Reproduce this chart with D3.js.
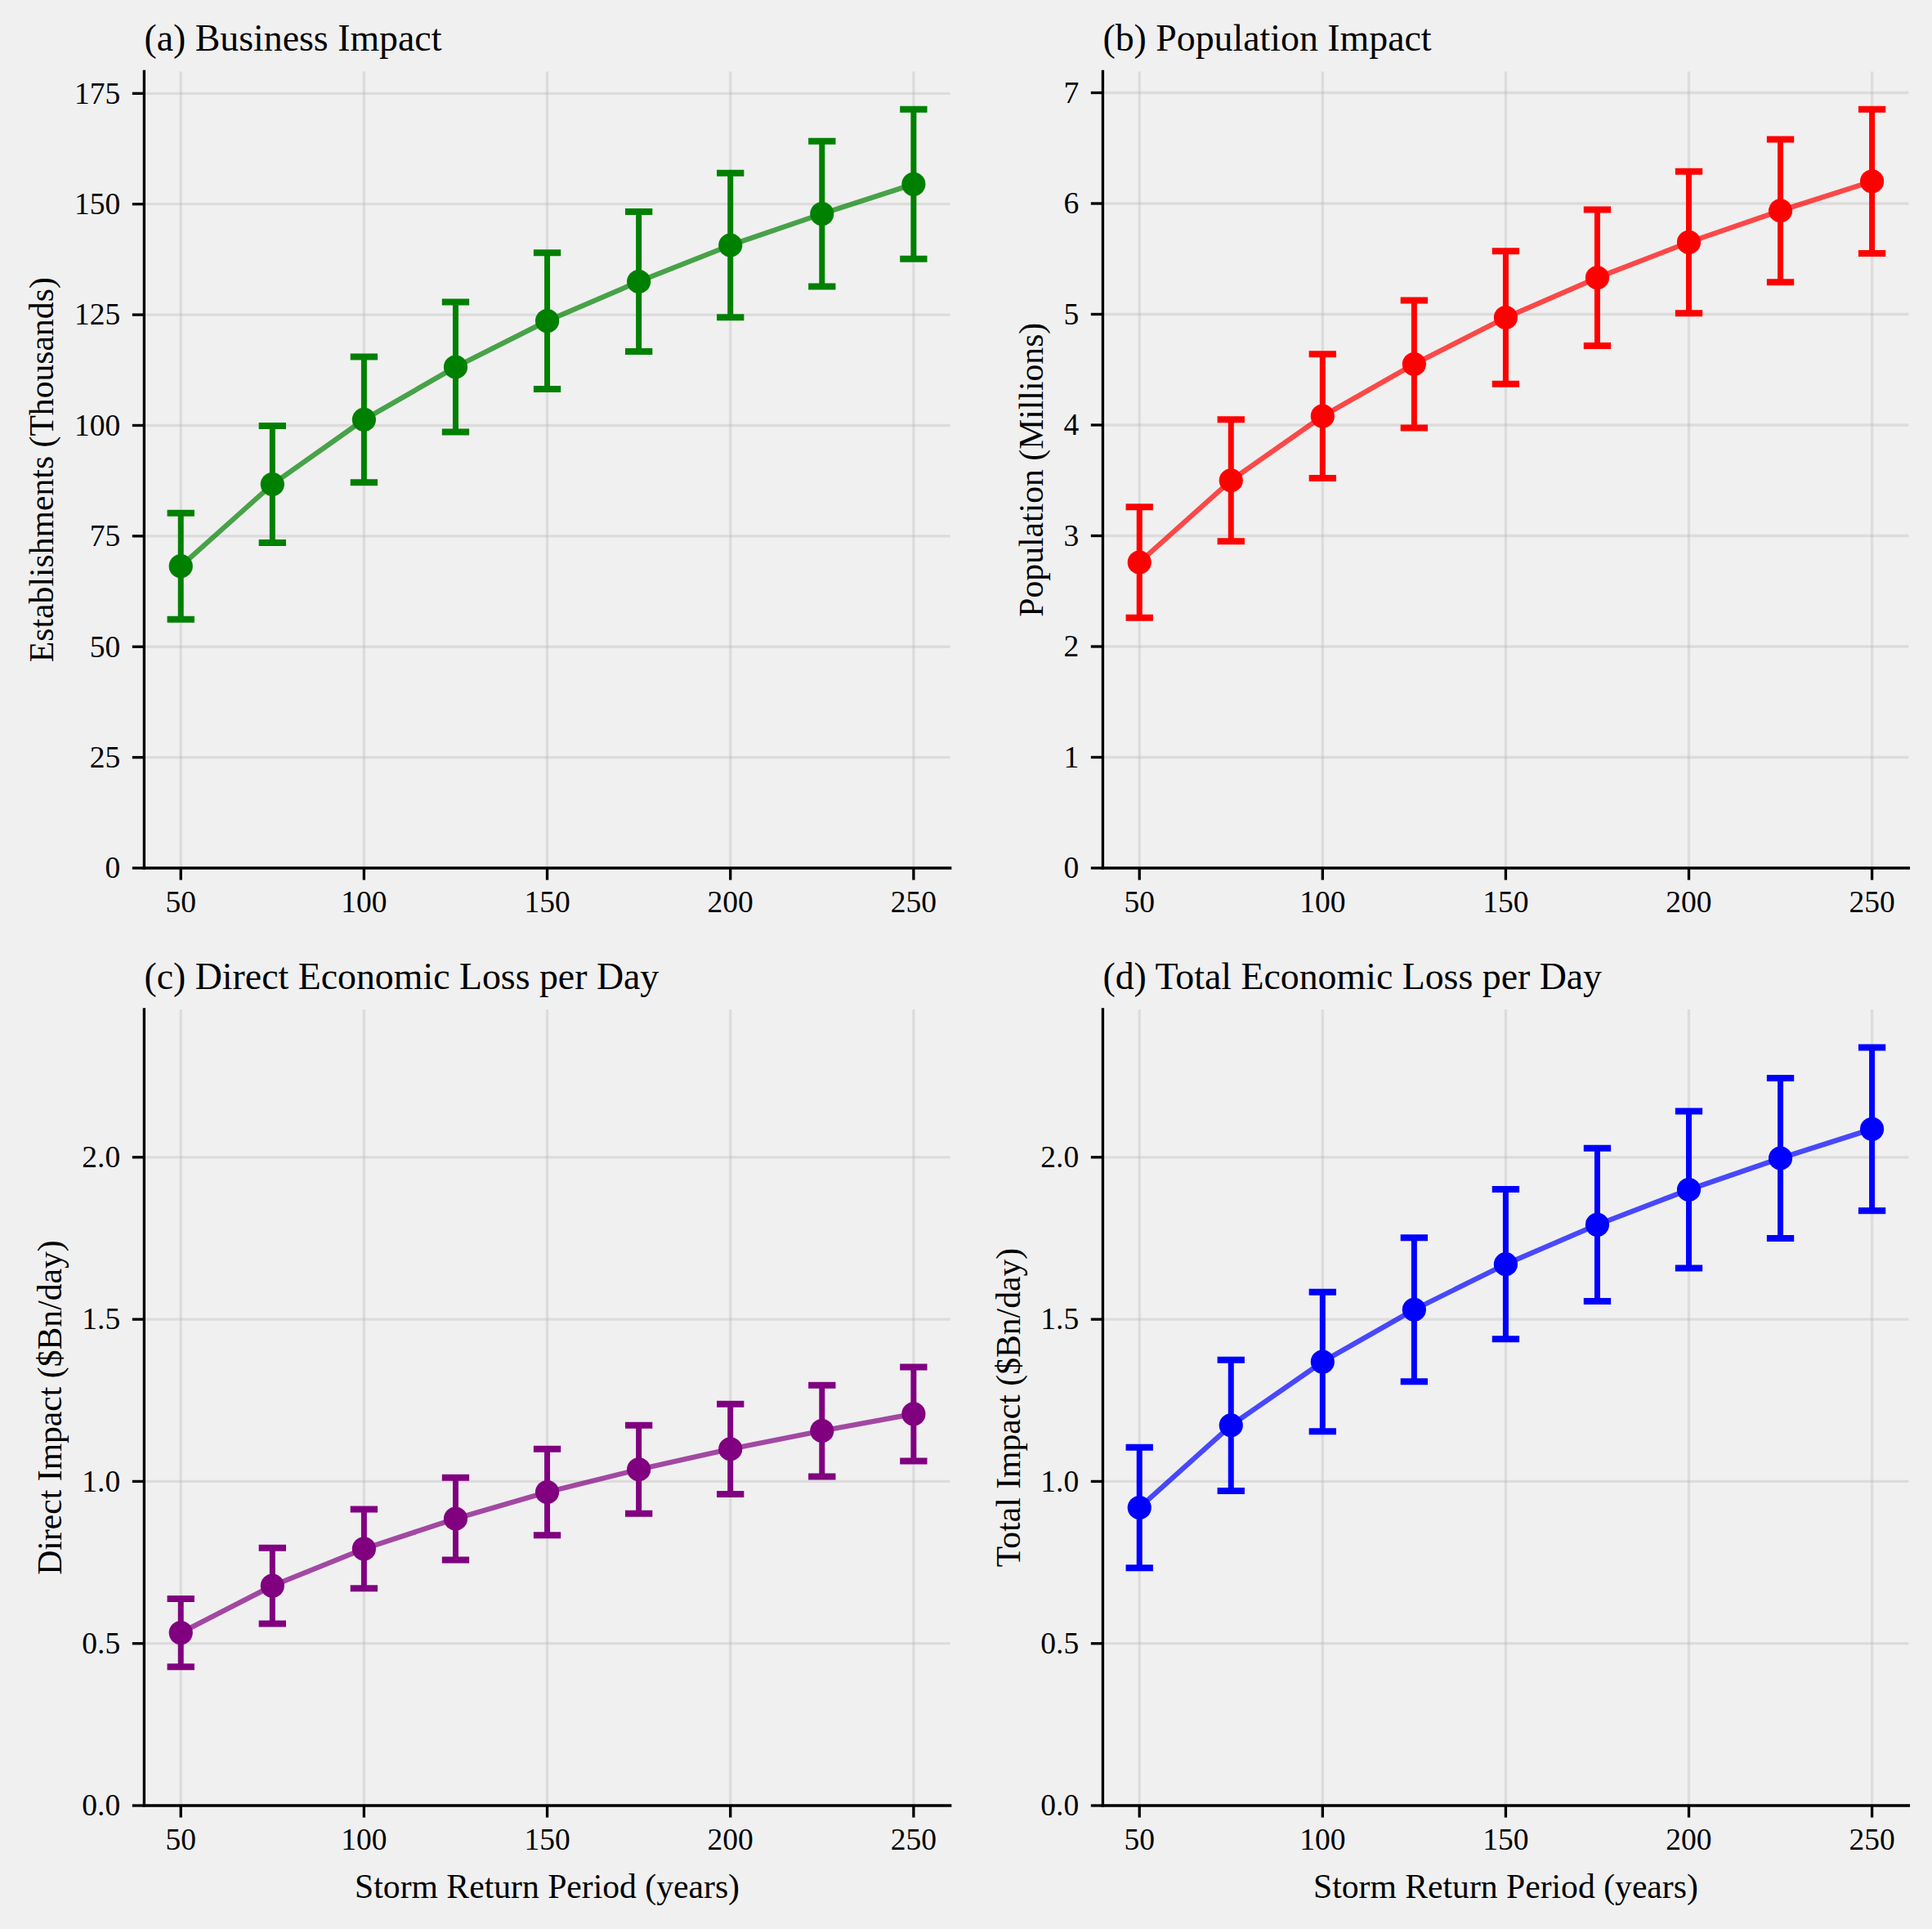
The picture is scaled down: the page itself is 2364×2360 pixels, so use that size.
<!DOCTYPE html>
<html>
<head>
<meta charset="utf-8">
<script src="https://cdn.jsdelivr.net/npm/d3@7"></script>
<style>
  html, body { margin: 0; padding: 0; background: #f0f0f0; }
  svg { display: block; }
  text { font-family: "Liberation Serif", "Times New Roman", serif; fill: #000; }
</style>
</head>
<body>
<script>
// ---- Data ----
const returnPeriods = [50, 75, 100, 125, 150, 175, 200, 225, 250];
const xTicks = [50, 100, 150, 200, 250];

const businessMean = [68.2, 86.7, 101.3, 113.2, 123.6, 132.5, 140.7, 147.8, 154.5];
const businessErr  = [12.0, 13.2, 14.2, 14.7, 15.4, 15.8, 16.3, 16.4, 16.9];

const populationMean = [2.76, 3.50, 4.08, 4.55, 4.97, 5.33, 5.65, 5.935, 6.20];
const populationErr  = [0.50, 0.55, 0.56, 0.575, 0.60, 0.615, 0.64, 0.645, 0.65];

const directMean = [0.533, 0.678, 0.792, 0.885, 0.967, 1.037, 1.100, 1.156, 1.208];
const directErr  = [0.105, 0.117, 0.122, 0.127, 0.133, 0.136, 0.139, 0.141, 0.145];

const totalMean = [0.919, 1.173, 1.369, 1.530, 1.670, 1.792, 1.900, 1.997, 2.087];
const totalErr  = [0.186, 0.202, 0.215, 0.222, 0.231, 0.236, 0.242, 0.247, 0.252];

const titles = ["(a) Business Impact", "(b) Population Impact",
                "(c) Direct Economic Loss per Day", "(d) Total Economic Loss per Day"];
const yLabels = ["Establishments (Thousands)", "Population (Millions)",
                 "Direct Impact ($Bn/day)", "Total Impact ($Bn/day)"];
const xLabel = "Storm Return Period (years)";
const yTicksA = [0, 25, 50, 75, 100, 125, 150, 175];
const yTicksB = [0, 1, 2, 3, 4, 5, 6, 7];
const yTicksCD = [0.0, 0.5, 1.0, 1.5, 2.0];
const colors = ["#008000", "#ff0000", "#800080", "#0000ff"];

// ---- Layout ----
const W = 2364, H = 2360;
const BG = "#f0f0f0";
const pt = 300 / 72;
const cols = [[176.4, 1162.7], [1349.4, 2335.4]];
const rows = [[87.4, 1062], [1235, 2209]];

const topMax = (m, e) => d3.max(m.map((v, i) => v + e[i])) * 1.05;
const cdMax = Math.max(topMax(directMean, directErr), topMax(totalMean, totalErr));

const panels = [
  {mean: businessMean, err: businessErr, ymax: topMax(businessMean, businessErr), ticks: yTicksA, fmt: d3.format("d"), r: 0, c: 0, xlab: false},
  {mean: populationMean, err: populationErr, ymax: topMax(populationMean, populationErr), ticks: yTicksB, fmt: d3.format("d"), r: 0, c: 1, xlab: false},
  {mean: directMean, err: directErr, ymax: cdMax, ticks: yTicksCD, fmt: d3.format(".1f"), r: 1, c: 0, xlab: true},
  {mean: totalMean, err: totalErr, ymax: cdMax, ticks: yTicksCD, fmt: d3.format(".1f"), r: 1, c: 1, xlab: true},
];

const svg = d3.select("body").append("svg")
  .attr("width", W).attr("height", H).attr("viewBox", `0 0 ${W} ${H}`);
svg.append("rect").attr("width", W).attr("height", H).attr("fill", BG);

const tickFs = 9 * pt, labelFs = 10 * pt, titleFs = 11 * pt;
const tickLen = 3.5 * pt, tickPad = 3.5 * pt, spineW = 0.8 * pt;

panels.forEach((p, k) => {
  const [x0, x1] = cols[p.c];
  const [y0, y1] = rows[p.r];
  const x = d3.scaleLinear().domain([40, 260]).range([x0, x1]);
  const y = d3.scaleLinear().domain([0, p.ymax]).range([y1, y0]);
  const g = svg.append("g");
  const col = colors[k];

  // grid
  const grid = g.append("g");
  grid.selectAll("line.gx").data(xTicks).join("line")
    .attr("x1", d => x(d)).attr("x2", d => x(d)).attr("y1", y0).attr("y2", y1)
    .attr("stroke", "#b0b0b0").attr("stroke-opacity", 0.3).attr("stroke-width", 0.8 * pt);
  grid.selectAll("line.gy").data(p.ticks).join("line")
    .attr("y1", d => y(d)).attr("y2", d => y(d)).attr("x1", x0).attr("x2", x1)
    .attr("stroke", "#b0b0b0").attr("stroke-opacity", 0.3).attr("stroke-width", 0.8 * pt);

  // error bars
  const capHalf = 4 * pt;
  const eb = g.append("g").attr("stroke", col);
  returnPeriods.forEach((rp, i) => {
    const lo = p.mean[i] - p.err[i], hi = p.mean[i] + p.err[i];
    eb.append("line").attr("x1", x(rp)).attr("x2", x(rp)).attr("y1", y(lo)).attr("y2", y(hi))
      .attr("stroke-width", 7);
    [lo, hi].forEach(v => {
      eb.append("line").attr("x1", x(rp) - capHalf).attr("x2", x(rp) + capHalf)
        .attr("y1", y(v)).attr("y2", y(v)).attr("stroke-width", 8);
    });
  });

  // line
  const line = d3.line().x((d, i) => x(returnPeriods[i])).y(d => y(d));
  g.append("path").datum(p.mean).attr("d", line)
    .attr("fill", "none").attr("stroke", col).attr("stroke-opacity", 0.7)
    .attr("stroke-width", 1.5 * pt).attr("stroke-linejoin", "round");

  // markers
  g.selectAll("circle").data(p.mean).join("circle")
    .attr("cx", (d, i) => x(returnPeriods[i])).attr("cy", d => y(d))
    .attr("r", 3.5 * pt).attr("fill", col);

  // spines
  g.append("line").attr("x1", x0).attr("x2", x0).attr("y1", y0).attr("y2", y1)
    .attr("stroke", "#000").attr("stroke-width", spineW).attr("stroke-linecap", "square");
  g.append("line").attr("x1", x0).attr("x2", x1).attr("y1", y1).attr("y2", y1)
    .attr("stroke", "#000").attr("stroke-width", spineW).attr("stroke-linecap", "square");

  // x ticks
  const xt = g.append("g");
  xTicks.forEach(t => {
    xt.append("line").attr("x1", x(t)).attr("x2", x(t)).attr("y1", y1).attr("y2", y1 + tickLen)
      .attr("stroke", "#000").attr("stroke-width", spineW);
    xt.append("text").attr("x", x(t)).attr("y", y1 + tickLen + tickPad + 0.662 * tickFs)
      .attr("text-anchor", "middle").attr("font-size", tickFs).text(t);
  });

  // y ticks
  const yt = g.append("g");
  p.ticks.forEach(t => {
    yt.append("line").attr("x1", x0 - tickLen).attr("x2", x0).attr("y1", y(t)).attr("y2", y(t))
      .attr("stroke", "#000").attr("stroke-width", spineW);
    yt.append("text").attr("x", x0 - tickLen - tickPad).attr("y", y(t) + 0.33 * tickFs)
      .attr("text-anchor", "end").attr("font-size", tickFs).text(p.fmt(t));
  });
  const ytLeft = yt.node().getBBox().x;

  // y label
  const ly = (y0 + y1) / 2;
  const lx = ytLeft - 4 * pt - 0.216 * labelFs;
  g.append("text").attr("transform", `translate(${lx},${ly}) rotate(-90)`)
    .attr("text-anchor", "middle").attr("font-size", labelFs).text(yLabels[k]);

  // x label
  if (p.xlab) {
    g.append("text").attr("x", (x0 + x1) / 2).attr("y", y1 + 113)
      .attr("text-anchor", "middle").attr("font-size", labelFs).text(xLabel);
  }

  // title
  g.append("text").attr("x", x0).attr("y", y0 - 6 * pt)
    .attr("text-anchor", "start").attr("font-size", titleFs).text(titles[k]);
});
</script>
</body>
</html>
